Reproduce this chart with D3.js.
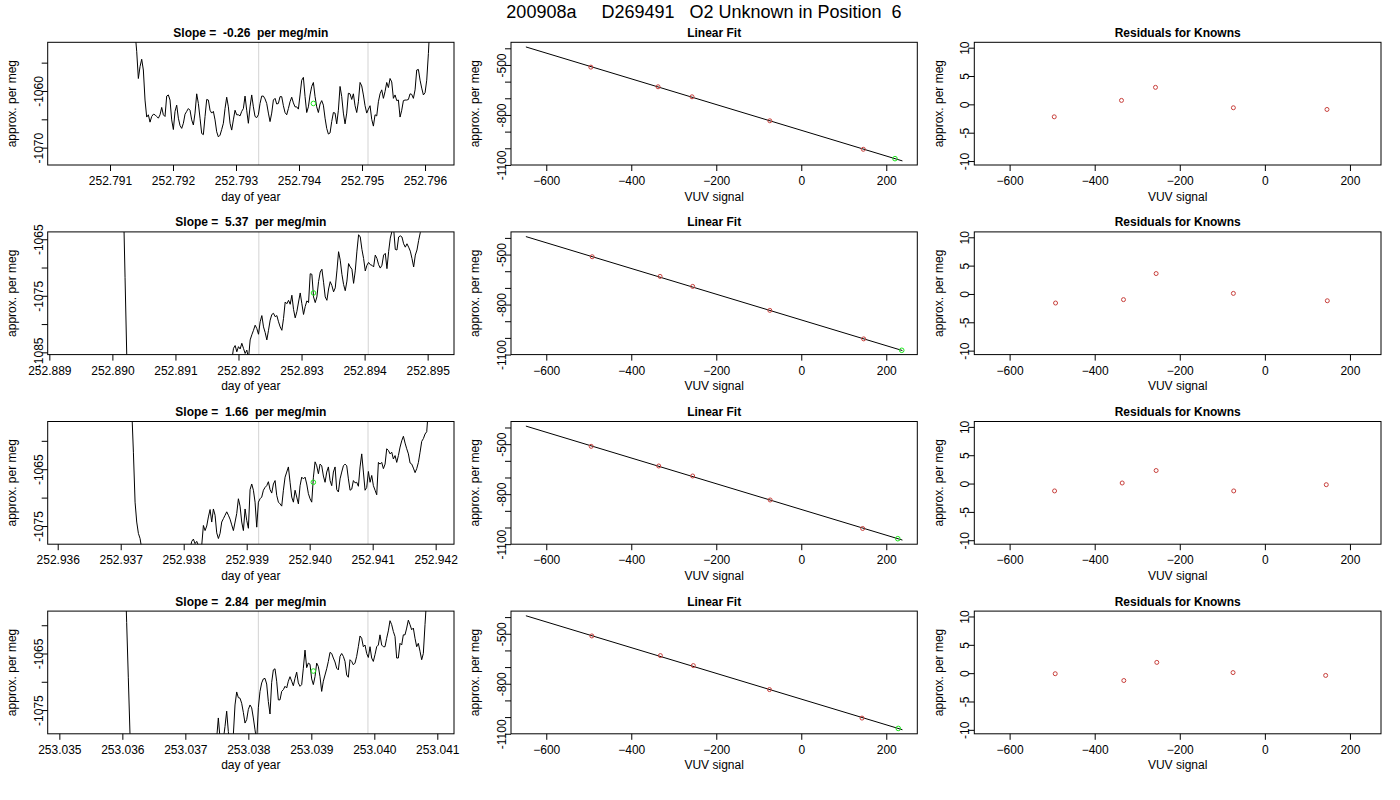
<!DOCTYPE html>
<html>
<head>
<meta charset="utf-8">
<script src="https://cdn.jsdelivr.net/npm/d3@7"></script>
<style>
  body { margin: 0; background: #fff; }
  svg text { font-family: "Liberation Sans", Arial, Helvetica, sans-serif; fill: #000; }
</style>
</head>
<body>
<svg id="chart" width="1400" height="800"></svg>
<script>
const TITLE = "200908a     D269491   O2 Unknown in Position  6"

// sampling interval of the analyser trace, seconds
const SAMPLE_SEC = 2.286

// left column: trace of the unknown, one row per aliquot
const slopes = ["-0.26", "5.37", "1.66", "2.84"]
const dayDomains = [
  [252.790011, 252.79646],
  [252.888974, 252.895418],
  [252.935841, 252.942291],
  [253.034815, 253.041265]
]
const perMegDomains = [
  [-1073.06, -1051.41],
  [-1085.4, -1063.7],
  [-1078.2, -1056.6],
  [-1079.2, -1057.5]
]
const windowDays = [
  [252.79336, 252.795095],
  [252.892323, 252.894058],
  [252.93919, 252.940926],
  [253.038159, 253.039899]
]
const unknownDay = [252.794228, 252.89319, 252.940058, 253.039032]
const unknownPerMeg = [-1062.2, -1074.5, -1067.3, -1068.1]

// each run: [day of first sample, values every SAMPLE_SEC]
const traceRuns = [
  [[252.791397, [
    -1049.5, -1053.0, -1057.8, -1055.7, -1054.4, -1056.3, -1061.6, -1064.6, -1064.2, -1065.5,
    -1064.5, -1064.1, -1064.2, -1064.5, -1064.8, -1064.2, -1062.9, -1064.2, -1064.5, -1060.9,
    -1060.7, -1061.6, -1065.1, -1066.8, -1063.6, -1062.5, -1064.8, -1066.1, -1066.6, -1065.7,
    -1064.1, -1063.6, -1063.1, -1063.4, -1065.1, -1066.0, -1063.9, -1060.5, -1062.2, -1064.8,
    -1067.5, -1067.7, -1064.5, -1061.5, -1061.6, -1063.4, -1063.9, -1063.6, -1065.1, -1067.2,
    -1068.1, -1067.8, -1066.8, -1065.7, -1063.1, -1061.1, -1062.8, -1065.7, -1066.9, -1065.1,
    -1063.4, -1064.2, -1064.2, -1064.4, -1063.6, -1063.1, -1060.9, -1063.4, -1065.7, -1062.8,
    -1060.7, -1062.8, -1064.5, -1064.7, -1064.2, -1062.2, -1060.9, -1060.9, -1061.4, -1062.2,
    -1063.9, -1065.4, -1063.9, -1061.6, -1061.3, -1062.3, -1062.2, -1061.0, -1061.0, -1062.6,
    -1063.8, -1064.2, -1063.1, -1061.9, -1061.1, -1062.1, -1062.8, -1062.8, -1063.2, -1060.7,
    -1058.1, -1057.6, -1061.0, -1063.8, -1062.8, -1060.7, -1059.2, -1058.5, -1061.0, -1062.8,
    -1063.8, -1062.3, -1061.7, -1062.5, -1064.8, -1066.6, -1067.6, -1067.4, -1065.4, -1063.8,
    -1063.9, -1065.8, -1063.4, -1059.2, -1061.0, -1063.9, -1065.8, -1063.9, -1060.4, -1060.5,
    -1061.5, -1060.5, -1062.6, -1063.8, -1061.9, -1058.5, -1059.1, -1060.7, -1062.6, -1063.9,
    -1063.2, -1062.6, -1065.0, -1066.2, -1064.2, -1064.4, -1061.9, -1060.5, -1059.8, -1061.3,
    -1060.1, -1058.5, -1059.4, -1057.8, -1058.4, -1061.3, -1060.7, -1061.7, -1061.6, -1064.6,
    -1063.4, -1061.7, -1061.6, -1061.6, -1061.5, -1060.5, -1060.6, -1061.3, -1059.8, -1056.3,
    -1056.2, -1058.1, -1059.5, -1060.7, -1060.3, -1058.1, -1053.4, -1047.5
  ]]],
  [[252.890148, [-1045.0, -1058.3, -1071.8, -1085.3, -1098.8]],
   [252.891894, [
    -1086.4, -1084.3, -1083.8, -1084.9, -1084.0, -1084.4, -1083.4, -1084.3, -1085.2, -1084.6,
    -1086.1, -1082.8, -1081.9, -1081.1, -1080.2, -1080.8, -1081.8, -1079.6, -1078.5, -1080.5,
    -1081.5, -1082.8, -1081.1, -1079.3, -1078.3, -1078.1, -1078.7, -1078.5, -1079.6, -1080.5,
    -1081.1, -1079.0, -1076.1, -1076.4, -1075.8, -1076.5, -1074.9, -1077.4, -1078.9, -1077.8,
    -1076.1, -1074.5, -1076.4, -1078.3, -1076.9, -1075.9, -1076.2, -1071.1, -1071.2, -1075.2,
    -1076.2, -1075.2, -1072.5, -1070.8, -1070.3, -1072.6, -1075.2, -1075.8, -1073.8, -1072.5,
    -1073.2, -1074.3, -1073.6, -1070.6, -1067.2, -1068.7, -1071.2, -1073.0, -1074.1, -1072.4,
    -1069.3, -1069.9, -1070.3, -1072.8, -1070.6, -1067.1, -1064.2, -1064.6, -1066.8, -1068.4,
    -1070.6, -1069.6, -1069.1, -1069.5, -1069.6, -1069.9, -1067.8, -1068.4, -1069.5, -1070.1,
    -1069.6, -1067.8, -1067.5, -1070.2, -1067.2, -1064.8, -1063.6, -1063.1, -1066.8, -1066.9,
    -1064.6, -1064.4, -1064.6, -1065.8, -1066.4, -1065.8, -1066.4, -1067.1, -1068.4, -1069.9,
    -1067.8, -1066.9, -1065.2, -1063.8, -1062.4
  ]]],
  [[252.937175, [-1054.4, -1062.0, -1070.8, -1074.3, -1076.3, -1077.2, -1079.0, -1083.7]],
   [252.938101, [
    -1079.0, -1077.7, -1077.3, -1078.1, -1077.7, -1078.4, -1079.0, -1078.4, -1074.9, -1075.8,
    -1075.0, -1073.4, -1072.1, -1074.3, -1072.0, -1073.1, -1076.2, -1077.2, -1076.3, -1074.3,
    -1073.7, -1073.1, -1072.5, -1073.1, -1073.8, -1074.8, -1075.8, -1074.3, -1072.8, -1070.2,
    -1071.5, -1074.3, -1075.8, -1072.0, -1074.0, -1075.4, -1068.6, -1067.6, -1068.7, -1070.8,
    -1075.2, -1070.8, -1070.2, -1069.9, -1068.7, -1068.2, -1067.9, -1067.2, -1068.6, -1069.2,
    -1067.6, -1067.0, -1069.6, -1070.8, -1071.1, -1071.5, -1068.7, -1066.4, -1065.5, -1064.6,
    -1067.3, -1069.9, -1070.8, -1068.7, -1069.9, -1071.1, -1067.9, -1066.4, -1066.7, -1066.4,
    -1067.6, -1069.3, -1070.2, -1070.8, -1066.4, -1063.7, -1064.4, -1065.8, -1064.1, -1064.4,
    -1066.2, -1067.3, -1065.5, -1064.6, -1067.0, -1067.9, -1065.5, -1064.6, -1068.6, -1069.0,
    -1066.7, -1065.5, -1064.4, -1064.1, -1064.4, -1066.7, -1068.7, -1068.5, -1067.0, -1067.4,
    -1067.3, -1068.0, -1064.6, -1062.3, -1065.5, -1068.7, -1068.2, -1065.4, -1067.3, -1066.1,
    -1067.9, -1068.7, -1069.5, -1063.8, -1064.1, -1063.8, -1064.9, -1064.1, -1061.4, -1061.7,
    -1062.3, -1062.0, -1063.2, -1062.6, -1063.8, -1062.6, -1061.1, -1060.0, -1059.2, -1060.4,
    -1061.4, -1062.3, -1063.9, -1064.1, -1064.8, -1065.6, -1064.9, -1063.8, -1062.0, -1060.1,
    -1059.6, -1058.8, -1058.4, -1054.4
  ]]],
  [[253.036042, [-1049.6, -1059.5, -1069.3, -1079.2, -1089.0]],
   [253.037471, [
    -1081.1, -1080.0, -1076.4, -1080.0, -1081.7, -1080.2, -1077.9, -1075.2, -1078.8, -1081.7,
    -1080.5, -1079.4, -1074.1, -1071.8, -1072.8, -1072.9, -1073.8, -1075.4, -1077.3, -1076.7,
    -1074.9, -1074.1, -1074.6, -1076.4, -1078.5, -1080.5, -1074.6, -1071.7, -1070.2, -1069.5,
    -1069.4, -1070.4, -1073.5, -1075.7, -1070.1, -1067.9, -1067.7, -1069.9, -1073.2, -1073.2,
    -1071.7, -1071.4, -1070.8, -1071.1, -1069.9, -1069.1, -1069.9, -1070.7, -1069.4, -1068.3,
    -1070.2, -1070.8, -1070.5, -1067.6, -1064.4, -1067.5, -1066.7, -1066.9, -1069.5, -1070.5,
    -1069.1, -1066.7, -1067.3, -1069.1, -1071.7, -1069.9, -1068.8, -1067.7, -1066.4, -1064.8,
    -1065.0, -1065.8, -1066.5, -1067.6, -1067.9, -1065.5, -1065.0, -1065.5, -1066.4, -1068.8,
    -1069.2, -1066.1, -1066.4, -1067.0, -1066.7, -1065.5, -1063.8, -1061.9, -1062.3, -1063.8,
    -1063.5, -1065.0, -1065.7, -1063.8, -1065.8, -1066.4, -1065.2, -1063.8, -1063.5, -1061.7,
    -1063.5, -1063.8, -1063.8, -1062.3, -1061.0, -1059.2, -1059.9, -1061.1, -1062.0, -1065.8,
    -1065.8, -1063.2, -1063.5, -1061.7, -1061.7, -1060.5, -1059.1, -1059.9, -1060.8, -1060.5,
    -1062.3, -1063.8, -1063.2, -1064.6, -1066.1, -1065.0, -1059.9, -1055.2
  ]]]
]

// middle column: calibration against the knowns
const knownPerMeg = [-513, -631, -691, -835, -1006]
const knownVuv = [
  [-495.1, -337.0, -257.1, -74.0, 146.0],
  [-492.0, -332.3, -255.6, -74.0, 146.8],
  [-494.3, -335.4, -255.6, -73.2, 144.4],
  [-492.8, -331.5, -254.0, -74.8, 142.9]
]
const unknownVuv = [220.5, 236.4, 227.1, 228.2]
const fitIntercept = [-892.0, -892.3, -891.8, -892.1]
const fitSlope = [-0.772, -0.772, -0.772, -0.772]
const fitVuvRange = [-648, 238]

// right column
const residuals = [
  [-2.2, 0.7, 3.0, -0.6, -0.9],
  [-1.6, -1.0, 3.6, 0.1, -1.2],
  [-1.3, 0.1, 2.3, -1.3, -0.2],
  [-0.1, -1.3, 1.9, 0.1, -0.4]
]

const vuvDomain = [-683, 273]
const fitDomain = [-1100.3, -364]
const residDomain = [-10.7, 10.95]

// layout
const colBox = [[47.7, 454], [511, 917.3], [974.3, 1381]]
const ROW_TOP = 42.3
const ROW_STEP = 189.6
const BOX_H = 122.7
const RED = "#c8403c"
const GREEN = "#1ee61e"

const svg = d3.select("#chart")

svg.append("text")
  .attr("x", 704)
  .attr("y", 18)
  .attr("text-anchor", "middle")
  .attr("font-size", 18)
  .style("white-space", "pre")
  .text(TITLE)

const frame = (row, col, title, xLabel, x, y, yLabelEvery) => {
  const [left, right] = colBox[col]
  const top = ROW_TOP + row * ROW_STEP
  const bottom = top + BOX_H
  const g = svg.append("g")

  const id = `clip-${row}-${col}`
  svg.append("clipPath").attr("id", id)
    .append("rect")
      .attr("x", left).attr("y", top)
      .attr("width", right - left).attr("height", BOX_H)

  g.append("text")
    .attr("x", (left + right) / 2)
    .attr("y", top - 5.5)
    .attr("text-anchor", "middle")
    .attr("font-size", 12)
    .attr("font-weight", "bold")
    .style("white-space", "pre")
    .text(title)

  g.append("g")
    .attr("transform", `translate(0,${bottom})`)
    .call(d3.axisBottom(x).ticks(6).tickSize(6).tickSizeOuter(0)
      .tickFormat(col === 0 ? d3.format(".3f") : d3.format("d")))
    .call(a => a.select(".domain").remove())
    .call(a => a.selectAll("text")
      .attr("y", 20).attr("dy", null)
      .attr("font-size", 12).attr("font-family", null))

  const yTicks = y.ticks(col === 1 ? 8 : 5)
  g.append("g")
    .attr("transform", `translate(${left},0)`)
    .call(d3.axisLeft(y).tickValues(yTicks).tickSize(6).tickSizeOuter(0))
    .call(a => a.select(".domain").remove())
    .call(a => a.selectAll("text")
      .attr("x", null).attr("dy", null)
      .attr("transform", "translate(-5,0) rotate(-90)")
      .attr("text-anchor", "middle")
      .attr("font-size", 12).attr("font-family", null)
      .text((d, i) => i % yLabelEvery === 0 ? d : ""))

  g.append("text")
    .attr("x", (left + right) / 2)
    .attr("y", bottom + 35.5)
    .attr("text-anchor", "middle")
    .attr("font-size", 12)
    .text(xLabel)

  g.append("text")
    .attr("transform", `translate(${left - 31.7},${(top + bottom) / 2}) rotate(-90)`)
    .attr("text-anchor", "middle")
    .attr("font-size", 12)
    .text("approx. per meg")

  const plot = svg.append("g").attr("clip-path", `url(#${id})`)

  svg.append("rect")
    .attr("x", left).attr("y", top)
    .attr("width", right - left).attr("height", BOX_H)
    .attr("fill", "none")
    .attr("stroke", "#000")
    .attr("stroke-width", 1)

  return plot
}

d3.range(4).forEach((row) => {
  const top = ROW_TOP + row * ROW_STEP
  const bottom = top + BOX_H

  // trace of the unknown
  const xDay = d3.scaleLinear().domain(dayDomains[row]).range(colBox[0])
  const yTrace = d3.scaleLinear().domain(perMegDomains[row]).range([bottom, top])
  const p1 = frame(row, 0, `Slope =  ${slopes[row]}  per meg/min`, "day of year", xDay, yTrace, 2)

  p1.selectAll("line.window")
    .data(windowDays[row])
    .join("line")
      .attr("x1", d => xDay(d)).attr("x2", d => xDay(d))
      .attr("y1", top).attr("y2", bottom)
      .attr("stroke", "#d3d3d3")
      .attr("stroke-width", 1)

  const trace = d3.line().x(d => xDay(d[0])).y(d => yTrace(d[1]))
  p1.selectAll("path.trace")
    .data(traceRuns[row].map(([start, values]) =>
      values.map((v, i) => [start + i * SAMPLE_SEC / 86400, v])))
    .join("path")
      .attr("d", trace)
      .attr("fill", "none")
      .attr("stroke", "#000")
      .attr("stroke-width", 1)

  p1.append("circle")
    .attr("cx", xDay(unknownDay[row]))
    .attr("cy", yTrace(unknownPerMeg[row]))
    .attr("r", 2.3)
    .attr("fill", "none")
    .attr("stroke", GREEN)

  // linear fit
  const xVuv = d3.scaleLinear().domain(vuvDomain).range(colBox[1])
  const yFit = d3.scaleLinear().domain(fitDomain).range([bottom, top])
  const p2 = frame(row, 1, "Linear Fit", "VUV signal", xVuv, yFit, 3)

  p2.append("line")
    .attr("x1", xVuv(fitVuvRange[0]))
    .attr("y1", yFit(fitIntercept[row] + fitSlope[row] * fitVuvRange[0]))
    .attr("x2", xVuv(fitVuvRange[1]))
    .attr("y2", yFit(fitIntercept[row] + fitSlope[row] * fitVuvRange[1]))
    .attr("stroke", "#000")
    .attr("stroke-width", 1)

  p2.selectAll("circle.known")
    .data(knownVuv[row].map((v, i) => [v, knownPerMeg[i]]))
    .join("circle")
      .attr("cx", d => xVuv(d[0]))
      .attr("cy", d => yFit(d[1]))
      .attr("r", 2)
      .attr("fill", "none")
      .attr("stroke", RED)

  p2.append("circle")
    .attr("cx", xVuv(unknownVuv[row]))
    .attr("cy", yFit(unknownPerMeg[row]))
    .attr("r", 2.3)
    .attr("fill", "none")
    .attr("stroke", GREEN)

  // residuals
  const xRes = d3.scaleLinear().domain(vuvDomain).range(colBox[2])
  const yRes = d3.scaleLinear().domain(residDomain).range([bottom, top])
  const p3 = frame(row, 2, "Residuals for Knowns", "VUV signal", xRes, yRes, 1)

  p3.selectAll("circle.resid")
    .data(knownVuv[row].map((v, i) => [v, residuals[row][i]]))
    .join("circle")
      .attr("cx", d => xRes(d[0]))
      .attr("cy", d => yRes(d[1]))
      .attr("r", 2)
      .attr("fill", "none")
      .attr("stroke", RED)
})
</script>
</body>
</html>
